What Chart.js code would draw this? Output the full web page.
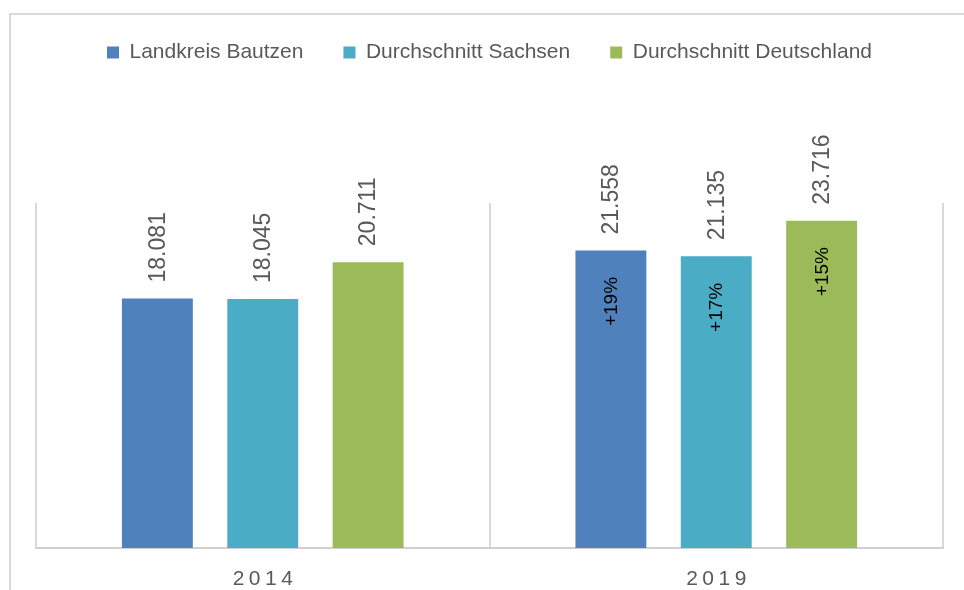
<!DOCTYPE html>
<html>
<head>
<meta charset="utf-8">
<script src="https://cdn.jsdelivr.net/npm/chart.js@4.4.1/dist/chart.umd.min.js"></script>
<style>
  html, body { margin: 0; padding: 0; background: #fff; }
  #wrap { position: relative; width: 964px; height: 590px; }
  #frame { position: absolute; left: 9px; top: 13px; right: 0; bottom: 0;
           border-left: 2px solid #d9d9d9; border-top: 2px solid #d9d9d9; }
  canvas { position: absolute; left: 0; top: 0; }
</style>
</head>
<body>
<div id="wrap">
  <div id="frame"></div>
  <canvas id="chart" width="964" height="590"></canvas>
</div>
<script>
// data
const years = ['2014', '2019'];
const bautzen = [18081, 21558];
const sachsen = [18045, 21135];
const deutschland = [20711, 23716];
const changeLabels = ['+19%', '+17%', '+15%']; // 2014 -> 2019, per series
const seriesNames = ['Landkreis Bautzen', 'Durchschnitt Sachsen', 'Durchschnitt Deutschland'];
const seriesColors = ['#4f81bd', '#4bacc6', '#9bbb59'];

const FONT = "'Liberation Sans', Arial, sans-serif";

function fmt(v) {
    // german thousands separator
    return String(v).replace(/\B(?=(\d{3})+(?!\d))/g, '.');
}

// value labels on top of the bars, change labels inside the 2019 bars
const barLabels = {
    id: 'barLabels',
    afterDatasetsDraw(chart) {
        const ctx = chart.ctx;
        chart.data.datasets.forEach((ds, i) => {
            const meta = chart.getDatasetMeta(i);
            meta.data.forEach((bar, j) => {
                ctx.save();
                ctx.translate(bar.x, bar.y - 16);
                ctx.rotate(-Math.PI / 2);
                ctx.font = '23px ' + FONT;
                ctx.fillStyle = '#595959';
                ctx.textAlign = 'left';
                ctx.textBaseline = 'middle';
                ctx.fillText(fmt(ds.data[j]), 0, 1);
                ctx.restore();

                if (j === 1) {
                    ctx.save();
                    ctx.translate(bar.x, bar.y + 51);
                    ctx.rotate(-Math.PI / 2);
                    ctx.font = '19px ' + FONT;
                    ctx.fillStyle = '#000';
                    ctx.textAlign = 'center';
                    ctx.textBaseline = 'middle';
                    ctx.fillText(changeLabels[i], 0, 1);
                    ctx.restore();
                }
            });
        });
    }
};

// year labels, spaced out like the original
const yearLabels = {
    id: 'yearLabels',
    afterDraw(chart) {
        const ctx = chart.ctx;
        const x = chart.scales.x;
        const sp = 4.5;
        ctx.save();
        ctx.font = '21px ' + FONT;
        ctx.fillStyle = '#595959';
        ctx.textAlign = 'center';
        ctx.textBaseline = 'middle';
        ctx.letterSpacing = sp + 'px';
        years.forEach((y, i) => {
            ctx.fillText(y, x.getPixelForTick(i) + sp / 2, x.top + 31);
        });
        ctx.restore();
    }
};

// push the plot area down under the legend
const legendSpace = {
    id: 'legendSpace',
    beforeInit(chart) {
        const fit = chart.legend.fit;
        chart.legend.fit = function () {
            fit.bind(chart.legend)();
            this.height = 201;
        };
    }
};

const ctx = document.getElementById('chart').getContext('2d');
const chart = new Chart(ctx, {
    type: 'bar',
    data: {
        labels: years,
        datasets: [bautzen, sachsen, deutschland].map((d, i) => ({
            label: seriesNames[i],
            data: d,
            backgroundColor: seriesColors[i],
            categoryPercentage: 0.697,
            barPercentage: 0.673
        }))
    },
    options: {
        responsive: false,
        animation: false,
        layout: { padding: { left: 36, right: 21, top: 2, bottom: 0 } },
        plugins: {
            legend: {
                position: 'top',
                labels: {
                    boxWidth: 12,
                    boxHeight: 12,
                    padding: 40,
                    color: '#595959',
                    font: { family: FONT, size: 21 }
                }
            },
            tooltip: { enabled: false }
        },
        scales: {
            x: {
                grid: { color: '#d9d9d9', lineWidth: 2, drawTicks: false },
                border: { color: '#d0d0d0', width: 2 },
                ticks: { display: false },
                afterFit(scale) { scale.height = 42; }
            },
            y: {
                display: false,
                min: 0,
                max: 25000
            }
        }
    },
    plugins: [legendSpace, barLabels, yearLabels]
});
</script>
</body>
</html>
